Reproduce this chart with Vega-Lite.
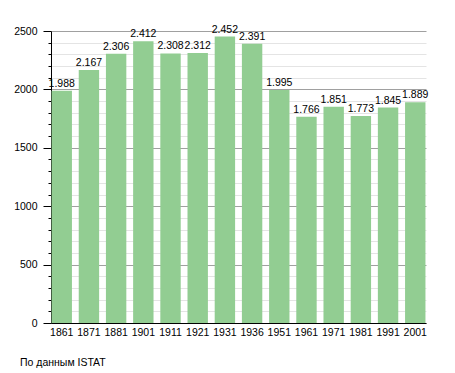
{
  "$schema": "https://vega.github.io/schema/vega-lite/v6.json",
  "autosize": "none",
  "width": 375,
  "height": 292,
  "padding": {"left": 51, "top": 31, "right": 29, "bottom": 50},
  "background": "white",
  "config": {
    "locale": {"number": {"decimal": ",", "thousands": ".", "grouping": [3], "currency": ["", "€"]}},
    "font": "Liberation Sans",
    "view": {"stroke": null}
  },
  "title": {
    "text": "По данным ISTAT",
    "orient": "bottom",
    "anchor": "start",
    "frame": "group",
    "dx": -31,
    "offset": 20,
    "fontSize": 10.5,
    "fontWeight": "normal",
    "font": "Liberation Sans",
    "color": "black"
  },
  "data": {
    "values": [
      {"year": "1861", "pop": 1988},
      {"year": "1871", "pop": 2167},
      {"year": "1881", "pop": 2306},
      {"year": "1901", "pop": 2412},
      {"year": "1911", "pop": 2308},
      {"year": "1921", "pop": 2312},
      {"year": "1931", "pop": 2452},
      {"year": "1936", "pop": 2391},
      {"year": "1951", "pop": 1995},
      {"year": "1961", "pop": 1766},
      {"year": "1971", "pop": 1851},
      {"year": "1981", "pop": 1773},
      {"year": "1991", "pop": 1845},
      {"year": "2001", "pop": 1889}
    ]
  },
  "encoding": {
    "x": {
      "field": "year",
      "type": "nominal",
      "sort": null,
      "scale": {"paddingInner": 0.25, "paddingOuter": 0.02},
      "axis": {
        "title": null,
        "labelAngle": 0,
        "labelFontSize": 10.5,
        "labelColor": "black",
        "domainColor": "black",
        "ticks": false,
        "labelPadding": 4
      }
    },
    "y": {
      "field": "pop",
      "type": "quantitative",
      "scale": {"domain": [0, 2500], "nice": false},
      "axis": {
        "title": null,
        "values": [0,100,200,300,400,500,600,700,800,900,1000,1100,1200,1300,1400,1500,1600,1700,1800,1900,2000,2100,2200,2300,2400,2500],
        "labelExpr": "datum.value % 500 === 0 ? format(datum.value, 'd') : ''",
        "labelFontSize": 10.5,
        "labelColor": "black",
        "domainColor": "black",
        "tickColor": "black",
        "tickSize": {"condition": {"test": "datum.value % 500 === 0", "value": 8}, "value": 3},
        "labelPadding": 6,
        "gridColor": {"condition": {"test": "datum.value % 500 === 0", "value": "#a0a0a0"}, "value": "#e4e4e4"}
      }
    }
  },
  "layer": [
    {"mark": {"type": "bar", "color": "#92cd92"}},
    {
      "mark": {"type": "text", "baseline": "alphabetic", "dy": -4, "fontSize": 10.5, "color": "black"},
      "encoding": {"text": {"field": "pop", "type": "quantitative", "format": ",d"}}
    }
  ]
}
